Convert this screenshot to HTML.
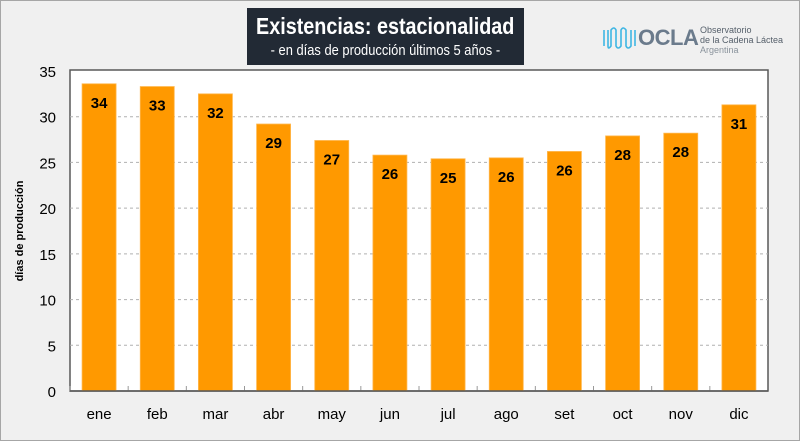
<!DOCTYPE html>
<html><head><meta charset="utf-8"><style>
body{margin:0;width:800px;height:441px;overflow:hidden;background:#f0f0f0;font-family:"Liberation Sans",sans-serif}
#frame{position:absolute;left:0;top:0;width:798px;height:439px;border:1px solid #a6a6a6;background:#f0f0f0}
#title{position:absolute;left:247px;top:8px;width:277px;height:57px;background:#222a35;color:#fff;text-align:center;white-space:nowrap}
.sq{display:inline-block;transform:scaleX(0.86);transform-origin:center}
</style></head><body>
<div id="frame"></div>
<div id="title">
<div style="font-size:23px;font-weight:bold;margin-top:5px;width:277px;text-align:center"><span class="sq" style="margin-left:-30px;margin-right:-30px">Existencias: estacionalidad</span></div>
<div style="font-size:15px;margin-top:2px;width:277px"><span class="sq" style="margin-left:-20px;margin-right:-20px">- en días de producción  últimos 5 años -</span></div>
</div>
<div style="position:absolute;left:600px;top:20px;width:170px;height:40px;white-space:nowrap">
<svg width="40" height="30" style="position:absolute;left:2px;top:2px"><path d="M2 8 V24 M6 8 V24 Q6 28 9 24 V8 Q12 4 14 8 V24 Q16 28 19 24 V8 Q21 4 24 8 V24 Q26 28 29 24 V8 M33 8 V24" stroke="#3fb6e3" stroke-width="1.6" fill="none"/></svg>
<div style="position:absolute;left:38px;top:5px;font-size:22px;font-weight:bold;color:#6b7b8c;letter-spacing:-0.5px">OCLA</div>
<div style="position:absolute;left:100px;top:5px;font-size:9px;line-height:10px;color:#56606b">Observatorio<br>de la Cadena Láctea<br><span style="color:#8a939c">Argentina</span></div>
</div>
<svg id="chart" width="800" height="441" style="position:absolute;left:0;top:0"></svg>
<script>
const categories=["ene","feb","mar","abr","may","jun","jul","ago","set","oct","nov","dic"];
const values=[33.6,33.3,32.5,29.2,27.4,25.8,25.4,25.5,26.2,27.9,28.2,31.3];
const labels=["34","33","32","29","27","26","25","26","26","28","28","31"];
const yTicks=[0,5,10,15,20,25,30,35];
const NS="http://www.w3.org/2000/svg";
const svg=document.getElementById("chart");
const L=70,R=768,T=71,B=391,YMAX=35;
const y=v=>B-(v/YMAX)*(B-T);
const bw=(R-L)/categories.length;
const x=i=>L+bw*i+bw/2;
function mk(tag,a,parent){const e=document.createElementNS(NS,tag);for(const k in a)e.setAttribute(k,a[k]);(parent||svg).appendChild(e);return e;}
const plot=mk("rect",{x:L,y:70,width:R-L,height:B-70,fill:"#fff",stroke:"#595959","stroke-width":1.5});


yTicks.forEach(t=>{
 if(t>0&&t<35){const g=mk("line",{x1:L,x2:R,y1:y(t),y2:y(t),stroke:"#b0b0b0","stroke-dasharray":"3,3"});
 
 }
 const tx=mk("text",{x:56,y:y(t)+6,"text-anchor":"end","font-size":15,fill:"#000"});
 tx.textContent=t;
 
 
});
categories.forEach((c,i)=>{
 const b=mk("rect",{x:x(i)-17,y:y(values[i]),width:34,height:B-y(values[i]),fill:"#ff9900",stroke:"#ffb74d","stroke-width":0.8});
 
 
 const lv=mk("text",{x:x(i),y:y(values[i])+24,"text-anchor":"middle","font-size":15,"font-weight":"bold",fill:"#000"});
 lv.textContent=labels[i];
 
 
 const cl=mk("text",{x:x(i),y:419,"text-anchor":"middle","font-size":15,fill:"#000"});
 cl.textContent=c;
 
 
 const tk=mk("line",{x1:L+bw*i,x2:L+bw*i,y1:B,y2:B-5,stroke:"#999"});
 
 
});
const ax=mk("line",{x1:L,x2:R,y1:B,y2:B,stroke:"#595959","stroke-width":1.5});


const yt=mk("text",{x:0,y:0,transform:"translate(23,231) rotate(-90)","text-anchor":"middle","font-size":11,"font-weight":"bold",fill:"#000"});
yt.textContent="días de producción";


</script>
</body></html>
